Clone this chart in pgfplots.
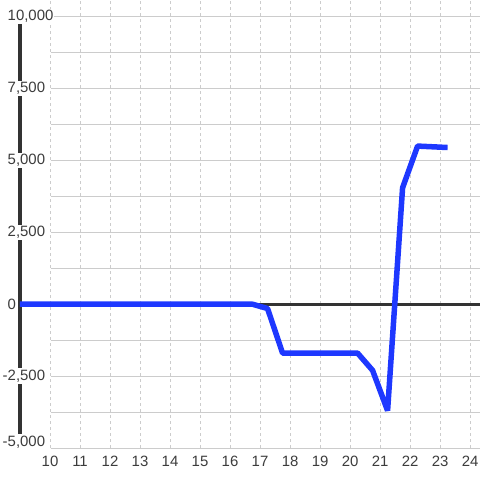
\documentclass[border=0pt]{standalone}
\usepackage{fontspec}
\setmainfont{Liberation Sans}
\usepackage{pgfplots}
\pgfplotsset{compat=1.18}
\definecolor{lineblue}{RGB}{30,56,255}
\definecolor{spine}{RGB}{51,51,51}
\definecolor{gridgray}{RGB}{204,204,204}
\definecolor{labelgray}{RGB}{60,60,60}
\pgfplotsset{
  common/.style={
    scale only axis,
    height=448bp,
    xmax=24.33,
    ymin=-5000, ymax=10580,
    axis line style={draw=none},
    major tick length=0pt, minor tick length=0pt,
    xtick={10,...,24},
    /pgf/number format/assume math mode=true,
  },
}
\begin{document}
\begin{tikzpicture}
% grid only, starting at x=10
\begin{axis}[
    common,
    at={(30.67bp,0)}, anchor=south west,
    width=429.33bp, xmin=10,
    ytick={-5000,-2500,0,2500,5000,7500,10000},
    minor y tick num=1,
    xticklabels={}, yticklabels={},
    xmajorgrids, ymajorgrids, yminorgrids,
    x grid style={gridgray, line width=0.8bp, dash pattern=on 3bp off 3bp},
    y grid style={gridgray, line width=0.8bp},
    minor y grid style={gridgray, line width=0.8bp},
]
\end{axis}
% data, spine, labels
\begin{axis}[
    common,
    at={(0,0)}, anchor=south west,
    width=460bp, xmin=9,
    axis on top,
    ytick={-2500,0,2500,5000,7500,10000},
    yticklabels={\llap{-}2{,}500,0,2{,}500,5{,}000,7{,}500,10{,}000},
    extra y ticks={-5000},
    extra y tick labels={\llap{-}5{,}000},
    extra y tick style={yticklabel style={yshift=6bp}},
    tick label style={font=\fontsize{15}{18}\selectfont, text=labelgray},
    xticklabel style={anchor=base, yshift=-18bp},
    yticklabel style={anchor=west, xshift=-13bp, fill=white, inner xsep=0.5bp, inner ysep=1.5bp},
    clip=false,
]
\addplot[spine, line width=3bp] coordinates {(9,-5000) (9,10000)};
\addplot[spine, line width=2.6bp] coordinates {(9,0) (24.33,0)};
\addplot[lineblue, line width=5.5bp, line join=bevel] coordinates {
  (9,0) (10,0) (11,0) (12,0) (13,0) (14,0) (15,0) (16,0) (16.75,0)
  (17.25,-150) (17.75,-1700) (18.25,-1700) (19.25,-1700) (20.25,-1700)
  (20.75,-2300) (21.25,-3700) (21.75,4050) (22.25,5500) (23.25,5450)
};
\end{axis}
\pgfresetboundingbox
\path[use as bounding box] (-20bp,-32bp) rectangle (460bp,448bp);
\end{tikzpicture}
\end{document}
